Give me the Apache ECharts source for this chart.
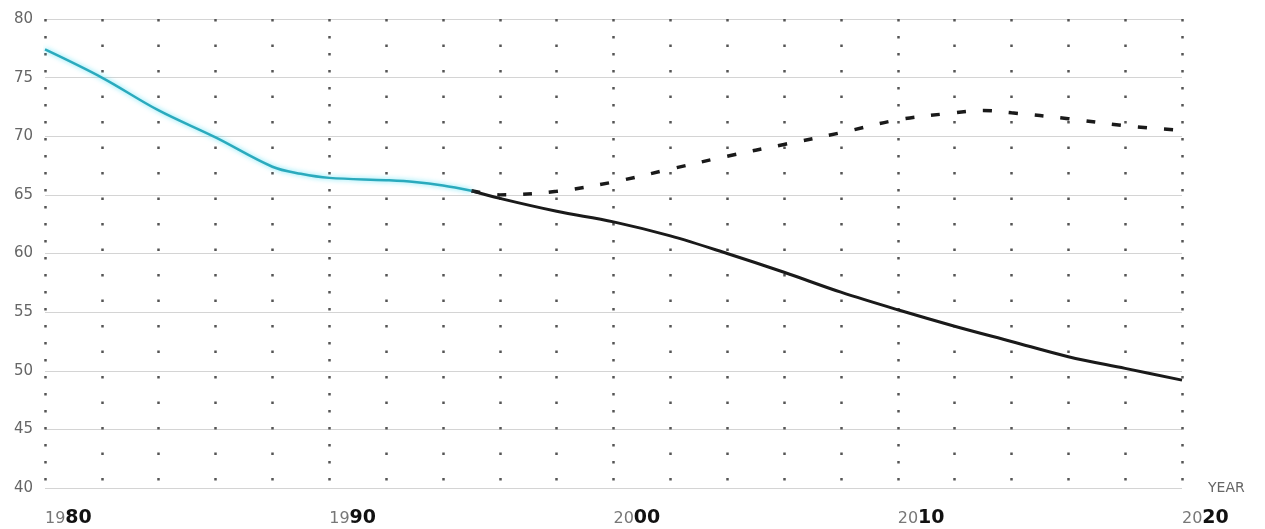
<!DOCTYPE html>
<html>
<head>
<meta charset="utf-8">
<script src="https://cdn.jsdelivr.net/npm/echarts@6/dist/echarts.min.js"></script>
<style>
html,body{margin:0;padding:0;background:#fff;}
#chart{width:1265px;height:529px;}
</style>
</head>
<body>
<div id="chart"></div>
<script>
// Data
const historicalYears  = [1980, 1982, 1984, 1986, 1988, 1989, 1990, 1992, 1993, 1994, 1995];
const historicalValues = [77.4, 75.0, 72.2, 69.9, 67.4, 66.8, 66.45, 66.25, 66.1, 65.8, 65.35];

const declineYears  = [1995, 1996, 1998, 2000, 2002, 2004, 2006, 2008, 2010, 2012, 2014, 2016, 2018, 2020];
const declineValues = [65.35, 64.7, 63.6, 62.7, 61.5, 60.0, 58.4, 56.7, 55.2, 53.8, 52.5, 51.2, 50.2, 49.2];

const altYears  = [1995, 1996, 1998, 2000, 2002, 2004, 2006, 2008, 2010, 2012, 2013, 2014, 2016, 2018, 2020];
const altValues = [65.35, 65.0, 65.3, 66.1, 67.2, 68.3, 69.3, 70.3, 71.4, 72.0, 72.2, 72.0, 71.5, 70.9, 70.5];

// Tick labels / grid columns
const gridColumns = ['1980','1982','1984','1986','1988','1990','1992','1994','1996','1998','2000',
                     '2002','2004','2006','2008','2010','2012','2014','2016','2018','2020'];
const xMin = 1980, xMax = 2020, xLabelStep = 10;
const yMin = 40, yMax = 80, yStep = 5;
const xAxisName = 'YEAR';

function pairs(xs, ys) { return xs.map((x, i) => [x, ys[i]]); }

const chart = echarts.init(document.getElementById('chart'), null, {renderer: 'canvas'});

chart.setOption({
  animation: false,
  backgroundColor: '#ffffff',
  grid: {left: 45, right: 83, top: 19, bottom: 41, containLabel: false},
  xAxis: [
    {
      type: 'value', min: xMin, max: xMax, interval: xLabelStep, position: 'bottom',
      axisLine: {show: false}, axisTick: {show: false},
      name: xAxisName, nameLocation: 'end', nameGap: 26,
      nameTextStyle: {color: '#666', fontSize: 14, fontFamily: 'DejaVu Sans', align: 'left', verticalAlign: 'middle', padding: [0, 0, 12, 0]},
      axisLabel: {
        show: true, margin: 21, align: 'left',
        formatter: function (v) { const s = String(v); return '{a|' + s.slice(0, 2) + '}{b|' + s.slice(2) + '}'; },
        rich: {
          a: {color: '#777', fontSize: 16, fontFamily: 'DejaVu Sans'},
          b: {color: '#111', fontSize: 19, fontWeight: 'bold', fontFamily: 'DejaVu Sans'}
        }
      },
      splitLine: {show: true, lineStyle: {color: '#555', width: 2.5, type: [2.5, 14.5]}}
    },
    {
      type: 'category', data: gridColumns, boundaryGap: false, position: 'bottom',
      axisLine: {show: false}, axisTick: {show: false}, axisLabel: {show: false},
      splitLine: {
        show: true,
        interval: function (index) { return index % 5 !== 0; },
        lineStyle: {color: '#555', width: 2.5, type: [2.5, 23]}
      }
    }
  ],
  yAxis: {
    type: 'value', min: yMin, max: yMax, interval: yStep,
    axisLine: {show: false}, axisTick: {show: false},
    axisLabel: {color: '#666', fontSize: 15, fontFamily: 'DejaVu Sans', margin: 12},
    splitLine: {show: true, lineStyle: {color: '#d4d4d4', width: 1.2}}
  },
  series: [
    {
      type: 'line', xAxisIndex: 0, data: pairs(altYears, altValues), smooth: 0.35, symbol: 'none',
      lineStyle: {color: '#1a1a1a', width: 3.5, type: [9, 17]}, z: 3
    },
    {
      type: 'line', xAxisIndex: 0, data: pairs(declineYears, declineValues), smooth: 0.35, symbol: 'none',
      lineStyle: {color: '#1a1a1a', width: 3}, z: 4
    },
    {
      type: 'line', xAxisIndex: 0, data: pairs(historicalYears, historicalValues), smooth: 0.35, symbol: 'none',
      lineStyle: {color: '#2aaabd', width: 2.5, shadowColor: 'rgba(90,225,245,0.9)', shadowBlur: 5}, z: 5
    }
  ]
});
</script>
</body>
</html>
